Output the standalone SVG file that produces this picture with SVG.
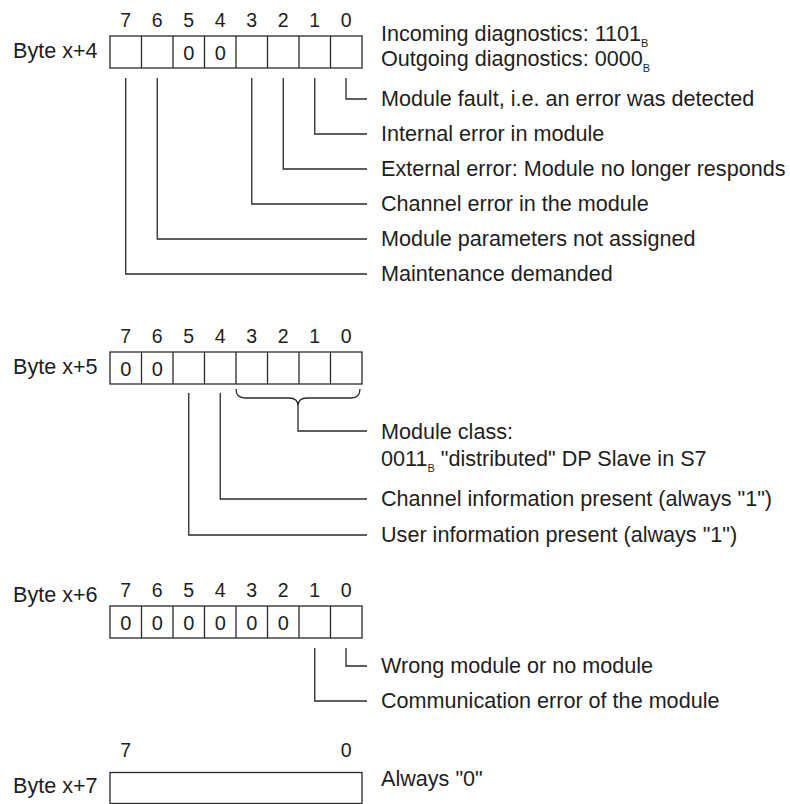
<svg xmlns="http://www.w3.org/2000/svg" width="790" height="804" viewBox="0 0 790 804">
<style>
text{font-family:"Liberation Sans",Arial,sans-serif;fill:#1e1e1e}
.lbl{font-size:21.6px}
.bit{font-size:19.5px;text-anchor:middle}
.val{font-size:20px;text-anchor:middle}
.sub{font-size:11px}
.box{fill:#fff;stroke:#2a2a2a;stroke-width:1.3}
.cell{stroke:#2a2a2a;stroke-width:1.3;fill:none}
.con{fill:none;stroke:#2a2a2a;stroke-width:1.3}
</style>
<rect width="790" height="804" fill="#fff"/>

<g id="byte4">
<text class="bit" x="125.75" y="27">7</text><text class="bit" x="157.25" y="27">6</text><text class="bit" x="188.75" y="27">5</text><text class="bit" x="220.25" y="27">4</text><text class="bit" x="251.75" y="27">3</text><text class="bit" x="283.25" y="27">2</text><text class="bit" x="314.75" y="27">1</text><text class="bit" x="346.25" y="27">0</text>
<text class="lbl" x="13" y="58">Byte x+4</text>
<rect class="box" x="110" y="36" width="252" height="32"/>
<path class="cell" d="M141.5,36V68M173,36V68M204.5,36V68M236,36V68M267.5,36V68M299,36V68M330.5,36V68"/>
<text class="val" x="188.75" y="60">0</text><text class="val" x="220.25" y="60">0</text>
</g>

<g id="diag-text">
<text class="lbl" x="381" y="41">Incoming diagnostics: 1101<tspan class="sub" dy="6">B</tspan></text>
<text class="lbl" x="381" y="66">Outgoing diagnostics: 0000<tspan class="sub" dy="6">B</tspan></text>
</g>

<g id="byte4-labels">
<text class="lbl" x="381" y="106">Module fault, i.e. an error was detected</text>
<text class="lbl" x="381" y="141">Internal error in module</text>
<text class="lbl" x="381" y="176">External error: Module no longer responds</text>
<text class="lbl" x="381" y="211">Channel error in the module</text>
<text class="lbl" x="381" y="246">Module parameters not assigned</text>
<text class="lbl" x="381" y="281">Maintenance demanded</text>
</g>

<g id="byte5">
<text class="bit" x="125.75" y="343">7</text><text class="bit" x="157.25" y="343">6</text><text class="bit" x="188.75" y="343">5</text><text class="bit" x="220.25" y="343">4</text><text class="bit" x="251.75" y="343">3</text><text class="bit" x="283.25" y="343">2</text><text class="bit" x="314.75" y="343">1</text><text class="bit" x="346.25" y="343">0</text>
<text class="lbl" x="13" y="374">Byte x+5</text>
<rect class="box" x="110" y="352" width="252" height="32"/>
<path class="cell" d="M141.5,352V384M173,352V384M204.5,352V384M236,352V384M267.5,352V384M299,352V384M330.5,352V384"/>
<text class="val" x="125.75" y="376">0</text><text class="val" x="157.25" y="376">0</text>
</g>

<g id="byte5-labels">
<text class="lbl" x="381" y="439">Module class:</text>
<text class="lbl" x="381" y="466">0011<tspan class="sub" dy="6">B</tspan><tspan dy="-6"> "distributed" DP Slave in S7</tspan></text>
<text class="lbl" x="381" y="506">Channel information present (always "1")</text>
<text class="lbl" x="381" y="542">User information present (always "1")</text>
</g>

<g id="byte6">
<text class="bit" x="125.75" y="597">7</text><text class="bit" x="157.25" y="597">6</text><text class="bit" x="188.75" y="597">5</text><text class="bit" x="220.25" y="597">4</text><text class="bit" x="251.75" y="597">3</text><text class="bit" x="283.25" y="597">2</text><text class="bit" x="314.75" y="597">1</text><text class="bit" x="346.25" y="597">0</text>
<text class="lbl" x="13" y="602">Byte x+6</text>
<rect class="box" x="110" y="606" width="252" height="32"/>
<path class="cell" d="M141.5,606V638M173,606V638M204.5,606V638M236,606V638M267.5,606V638M299,606V638M330.5,606V638"/>
<text class="val" x="125.75" y="630">0</text><text class="val" x="157.25" y="630">0</text><text class="val" x="188.75" y="630">0</text><text class="val" x="220.25" y="630">0</text><text class="val" x="251.75" y="630">0</text><text class="val" x="283.25" y="630">0</text>
</g>

<g id="byte6-labels">
<text class="lbl" x="381" y="673">Wrong module or no module</text>
<text class="lbl" x="381" y="708">Communication error of the module</text>
</g>

<g id="byte7">
<text class="bit" x="125.75" y="757">7</text><text class="bit" x="346.25" y="757">0</text>
<text class="lbl" x="13" y="793">Byte x+7</text>
<rect class="box" x="110" y="772.5" width="252" height="31"/>
<text class="lbl" x="381" y="786">Always "0"</text>
</g>

<g id="connectors">
<path class="con" d="M346,78V99H367"/>
<path class="con" d="M314.75,78V134H367"/>
<path class="con" d="M283.25,78V169H367"/>
<path class="con" d="M251.75,78V204H367"/>
<path class="con" d="M157.25,78V239H367"/>
<path class="con" d="M125.75,78V274H367"/>
<path class="con" d="M236,389Q236,398 245,398H289Q298,398 298,406Q298,398 307,398H351Q360,398 360,389"/>
<path class="con" d="M298,406V431H367"/>
<path class="con" d="M220.25,393V499H367"/>
<path class="con" d="M188.75,393V535H367"/>
<path class="con" d="M346,648V666H367"/>
<path class="con" d="M314.75,648V701H367"/>
</g>
</svg>
